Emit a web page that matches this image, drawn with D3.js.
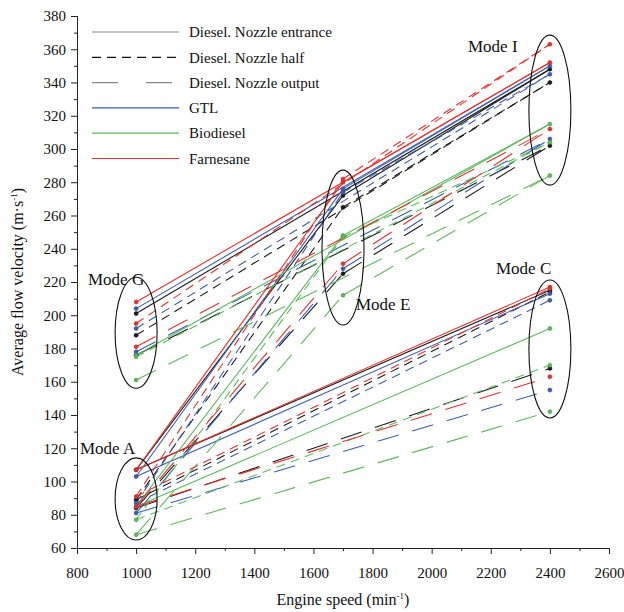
<!DOCTYPE html>
<html><head><meta charset="utf-8">
<script src="https://cdn.jsdelivr.net/npm/d3@7"></script>
<style>body{margin:0;background:#fff}svg{display:block}text{font-family:"Liberation Serif","Times New Roman",serif;fill:#111}</style>
</head><body><svg id="c" width="624" height="612"></svg>
<script>
// ---- data ----
const fuels = ["Diesel", "GTL", "Biodiesel", "Farnesane"];
const positions = ["Nozzle entrance", "Nozzle half", "Nozzle output"];
const legendLabels = ["Diesel. Nozzle entrance", "Diesel. Nozzle half", "Diesel. Nozzle output", "GTL", "Biodiesel", "Farnesane"];
const modeNames = ["A", "G", "E", "C", "I"];
const modeSpeed = [1000, 1000, 1700, 2400, 2400];
// values per series: index = fuel*3 + position
const modeA = [107, 89, 84, 103, 87, 81, 85, 77, 68, 107, 91, 85];
const modeG = [201, 188, 176, 204, 192, 178, 176, 175, 161, 208, 195, 181];
const modeE = [272, 265, 225, 276, 274, 228, 248, 247, 212, 280, 282, 231];
const modeC = [215, 214, 168, 213, 209, 155, 192, 170, 142, 217, 216, 163];
const modeI = [348, 340, 302, 350, 345, 306, 315, 304, 284, 352, 363, 312];
const segments = [["A", "C"], ["A", "E"], ["E", "I"], ["G", "I"]];
const xTicks = [800, 1000, 1200, 1400, 1600, 1800, 2000, 2200, 2400, 2600];
const yTicks = [60, 80, 100, 120, 140, 160, 180, 200, 220, 240, 260, 280, 300, 320, 340, 360, 380];
// ellipse groups: mode, centre value, half-height value
const ellipseMode = ["G", "A", "E", "I", "C"];
const ellipseCy = [189.5, 89.5, 240.7, 323.4, 179.7];
const ellipseRy = [33.4, 24.7, 46.6, 45.1, 41.5];

// ---- styles ----
const fuelColors = ["#1b1b1b", "#3d5db3", "#5dbb5d", "#e8322d"];
const dashes = [null, "9,6", "22,14"];
const legendColors = ["#8a8a8a", "#111", "#8a8a8a", "#3d5db3", "#5dbb5d", "#e8322d"];

const svg = d3.select("#c");
const x = d3.scaleLinear().domain([800, 2600]).range([77, 609]);
const y = d3.scaleLinear().domain([60, 380]).range([548, 16]);

const modeVals = {A: modeA, G: modeG, E: modeE, C: modeC, I: modeI};
const modeX = {};
modeNames.forEach((m, i) => modeX[m] = modeSpeed[i]);

// axes
const yAxis = d3.axisLeft(y).tickValues(yTicks).tickSize(6).tickPadding(5).tickFormat(d3.format("d"));
const yMinor = d3.axisLeft(y).tickValues(d3.range(70, 380, 20)).tickSize(3).tickFormat("");
const xAxis = d3.axisBottom(x).tickValues(xTicks).tickSize(6).tickPadding(13).tickFormat(d3.format("d"));
const xMinor = d3.axisBottom(x).tickValues(d3.range(900, 2600, 200)).tickSize(3).tickFormat("");

svg.append("g").attr("transform", "translate(77,0)").call(yAxis);
svg.append("g").attr("transform", "translate(77,0)").call(yMinor);
svg.append("g").attr("transform", "translate(0,548)").call(xAxis);
svg.append("g").attr("transform", "translate(0,548)").call(xMinor);
svg.selectAll(".domain").attr("stroke", "#222");
svg.selectAll(".tick line").attr("stroke", "#222");
svg.selectAll(".tick text").style("font-size", "15px").attr("fill", "#111");

// data lines
const gl = svg.append("g");
for (let s = 0; s < 12; s++) {
  const f = Math.floor(s / 3), p = s % 3;
  segments.forEach(([m1, m2]) => {
    gl.append("line")
      .attr("x1", x(modeX[m1])).attr("y1", y(modeVals[m1][s]))
      .attr("x2", x(modeX[m2])).attr("y2", y(modeVals[m2][s]))
      .attr("stroke", fuelColors[f]).attr("stroke-width", 1.1)
      .attr("stroke-dasharray", dashes[p]);
  });
}
// points
const gp = svg.append("g");
for (let s = 0; s < 12; s++) {
  const f = Math.floor(s / 3);
  modeNames.forEach(m => {
    gp.append("circle").attr("cx", x(modeX[m])).attr("cy", y(modeVals[m][s])).attr("r", 2)
      .attr("fill", fuelColors[f]).attr("stroke", d3.color(fuelColors[f]).darker(0.6)).attr("stroke-width", 0.6);
  });
}
// ellipses
const ge = svg.append("g");
ellipseMode.forEach((m, i) => {
  const cy = y(ellipseCy[i]);
  const ry = y(ellipseCy[i] - ellipseRy[i]) - cy;
  ge.append("ellipse").attr("cx", x(modeX[m])).attr("cy", cy).attr("rx", 21).attr("ry", ry)
    .attr("fill", "none").attr("stroke", "#111").attr("stroke-width", 1.1);
});
// mode labels
const modeLabelPos = [["Mode G", 88, 285], ["Mode A", 80, 454], ["Mode E", 356, 310], ["Mode I", 468, 52], ["Mode C", 496, 274]];
modeLabelPos.forEach(([t, lx, ly]) => svg.append("text").attr("x", lx).attr("y", ly).style("font-size", "17px").text(t));

// legend
const lg = svg.append("g");
legendLabels.forEach((t, i) => {
  const ry = 32 + i * 25.3;
  const dash = i < 3 ? dashes[i] : null;
  lg.append("line").attr("x1", 92).attr("x2", i === 1 ? 176 : (i === 2 ? 172 : 179)).attr("y1", ry).attr("y2", ry)
    .attr("stroke", legendColors[i]).attr("stroke-width", 1.2).attr("stroke-dasharray", i === 2 ? "26,28" : dash);
  lg.append("text").attr("x", 189).attr("y", ry).attr("dy", "0.35em").style("font-size", "15px").text(t);
});

// axis titles
const yt = svg.append("text").attr("transform", "translate(23,282) rotate(-90)").attr("text-anchor", "middle").style("font-size", "16px");
yt.append("tspan").text("Average flow velocity (m·s");
yt.append("tspan").attr("dy", "-6").style("font-size", "9px").text("-1");
yt.append("tspan").attr("dy", "6").text(")");
const xt = svg.append("text").attr("x", 343).attr("y", 605).attr("text-anchor", "middle").style("font-size", "16px");
xt.append("tspan").text("Engine speed  (min");
xt.append("tspan").attr("dy", "-6").style("font-size", "9px").text("-1");
xt.append("tspan").attr("dy", "6").text(")");
</script></body></html>
